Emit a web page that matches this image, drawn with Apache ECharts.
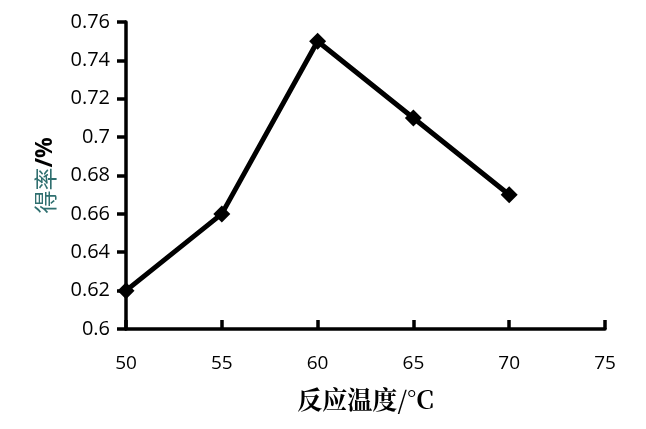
<!DOCTYPE html>
<html>
<head>
<meta charset="utf-8">
<script src="https://cdn.jsdelivr.net/npm/echarts@6/dist/echarts.min.js"></script>
<style>
html, body { margin: 0; padding: 0; background: #fff; }
#box { width: 646px; height: 429px; }
</style>
</head>
<body>
<div id="box"></div>
<script>
var temps = [50, 55, 60, 65, 70];
var yields = [0.62, 0.66, 0.75, 0.71, 0.67];

var dom = document.getElementById("box");
var myChart = echarts.init(dom);
var option = {
  animation: false,
  grid: { left: 126, right: 41, top: 22, bottom: 100 },
  xAxis: {
    type: 'value',
    min: 50, max: 75, interval: 5,
    name: '反应温度/°C',
    nameLocation: 'middle',
    nameGap: 58,
    nameTextStyle: { fontFamily: 'Noto Serif CJK SC, serif', fontSize: 25, fontWeight: 'bold', color: '#000' },
    axisLine: { lineStyle: { color: '#000', width: 3.5 } },
    axisTick: { inside: true, length: 9, lineStyle: { width: 3.5, color: '#000' } },
    axisLabel: { color: '#000', fontSize: 19, margin: 25, fontFamily: 'Open Sans' },
    splitLine: { show: false }
  },
  yAxis: {
    type: 'value',
    min: 0.6, max: 0.76, interval: 0.02,
    name: '{a|得率}{b|/%}',
    nameLocation: 'middle',
    nameRotate: 90,
    nameGap: 69,
    nameTextStyle: {
      rich: {
        a: { color: '#2f6f6f', fontSize: 23, fontFamily: 'Noto Sans CJK SC' },
        b: { color: '#000', fontSize: 23, fontWeight: 'bold', fontFamily: 'Open Sans' }
      }
    },
    axisLine: { show: true, lineStyle: { color: '#000', width: 3.5 } },
    axisTick: { show: true, length: 9, lineStyle: { width: 3.5, color: '#000' } },
    axisLabel: {
      color: '#000', fontSize: 20, margin: 16, fontFamily: 'Open Sans',
      formatter: function (v) { return String(parseFloat(v.toFixed(2))); }
    },
    splitLine: { show: false }
  },
  series: [{
    type: 'line',
    data: temps.map(function (t, i) { return [t, yields[i]]; }),
    symbol: 'diamond',
    symbolSize: 17,
    lineStyle: { color: '#000', width: 5 },
    itemStyle: { color: '#000' }
  }]
};
myChart.setOption(option);
</script>
</body>
</html>
